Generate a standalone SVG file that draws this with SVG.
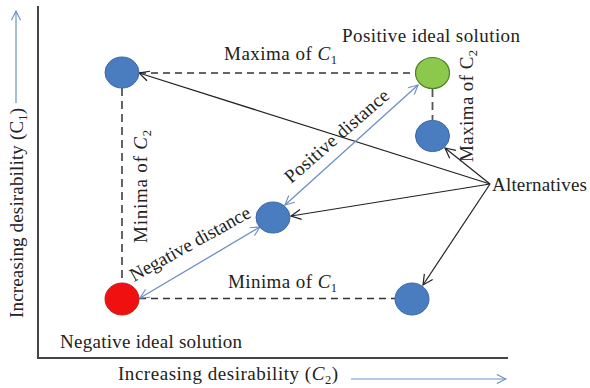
<svg xmlns="http://www.w3.org/2000/svg" width="590" height="388" viewBox="0 0 590 388">
  <style>
    text { font-family: "Liberation Serif", "Times New Roman", serif; font-size: 19px; fill: #222; }
    .sub { font-size: 12.5px; }
    .it { font-style: italic; }
    .axis { stroke: #444; stroke-width: 2; fill: none; }
    .guide { stroke: #333; stroke-width: 1.5; stroke-dasharray: 7 5; fill: none; }
    .guide-v { stroke: #555; stroke-width: 1.8; stroke-dasharray: 8 5; fill: none; }
    .pointer { stroke: #222; stroke-width: 1.2; fill: none; marker-end: url(#open-black); }
    .dist { stroke: #6d8fc7; stroke-width: 1.3; fill: none; marker-start: url(#open-blue); marker-end: url(#open-blue); }
    .dir { stroke: #6d8fc7; stroke-width: 1.2; fill: none; marker-end: url(#open-blue); }
    .alt { fill: #4a7cc0; stroke: #3a68a8; stroke-width: 1; }
    .pis { fill: #8cc84b; stroke: #4f7f2c; stroke-width: 1.2; }
    .nis { fill: #f01010; stroke: #c02020; stroke-width: 1; }
  </style>
  <defs>
    <marker id="open-black" viewBox="0 0 12 12" refX="11" refY="6" markerWidth="12" markerHeight="12" markerUnits="userSpaceOnUse" orient="auto-start-reverse">
      <path d="M1,1 L11,6 L1,11" fill="none" stroke="#222" stroke-width="1.2"/>
    </marker>
    <marker id="open-blue" viewBox="0 0 12 12" refX="11" refY="6" markerWidth="11" markerHeight="11" markerUnits="userSpaceOnUse" orient="auto-start-reverse">
      <path d="M1,1 L11,6 L1,11" fill="none" stroke="#6d8fc7" stroke-width="1.2"/>
    </marker>
  </defs>

  <rect width="590" height="388" fill="#ffffff"/>

  <!-- axes and axis captions -->
  <g id="axes">
    <path class="axis" d="M38,6 V358 H508"/>
    <path class="dir" d="M16,103 V11"/>
    <text transform="translate(23 318) rotate(-90)" textLength="210">Increasing desirability (C<tspan class="sub" dy="4">1</tspan><tspan dy="-4">)</tspan></text>
    <path class="dir" d="M351,379 H506"/>
    <text x="118" y="380" textLength="220">Increasing desirability (<tspan class="it">C</tspan><tspan class="sub" dy="4">2</tspan><tspan dy="-4">)</tspan></text>
  </g>

  <!-- connectors -->
  <g id="connectors">
    <path class="guide" d="M139,73 H415"/>
    <path class="guide" d="M139,298.5 H395"/>
    <path class="guide-v" d="M122,88 V283"/>
    <path class="guide-v" d="M432.5,89 V120"/>
    <path class="pointer" d="M490,184 L139,73"/>
    <path class="pointer" d="M490,184 L445,148"/>
    <path class="pointer" d="M490,184 L291,216"/>
    <path class="pointer" d="M490,184 L423,285"/>
    <path class="dist" d="M285,205 L418,85"/>
    <path class="dist" d="M140,298 L260,227"/>
  </g>

  <!-- connector labels -->
  <g id="labels">
    <text x="224" y="60" textLength="113">Maxima of <tspan class="it">C</tspan><tspan class="sub" dy="4">1</tspan></text>
    <text x="228" y="288" textLength="109">Minima of <tspan class="it">C</tspan><tspan class="sub" dy="4">1</tspan></text>
    <text transform="translate(147 243) rotate(-90)" textLength="113">Minima of <tspan class="it">C</tspan><tspan class="sub" dy="4">2</tspan></text>
    <text transform="translate(473 162) rotate(-90)" textLength="112">Maxima of C<tspan class="sub" dy="4">2</tspan></text>
    <text transform="translate(291 184) rotate(-41)" textLength="132">Positive distance</text>
    <text transform="translate(134 282) rotate(-29)" textLength="135">Negative distance</text>
  </g>

  <!-- nodes -->
  <g id="node-max-c1">
    <ellipse class="alt" cx="122" cy="72.5" rx="17" ry="15.5"/>
  </g>
  <g id="node-positive-ideal">
    <ellipse class="pis" cx="432.5" cy="73" rx="17" ry="15.5"/>
    <text x="342" y="42" textLength="178">Positive ideal solution</text>
  </g>
  <g id="node-max-c2">
    <ellipse class="alt" cx="432.5" cy="136" rx="17" ry="15.5"/>
  </g>
  <g id="node-middle">
    <ellipse class="alt" cx="273" cy="217.5" rx="17" ry="15.5"/>
  </g>
  <g id="node-negative-ideal">
    <ellipse class="nis" cx="122" cy="299" rx="17" ry="16"/>
    <text x="60" y="348" textLength="182">Negative ideal solution</text>
  </g>
  <g id="node-min-c1">
    <ellipse class="alt" cx="412" cy="299" rx="17" ry="16"/>
  </g>
  <g id="node-alternatives">
    <text x="492" y="191" textLength="95">Alternatives</text>
  </g>
</svg>
